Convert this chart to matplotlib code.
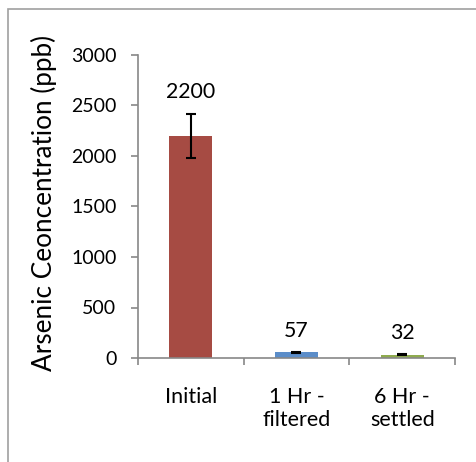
import matplotlib
matplotlib.use("Agg")
import matplotlib.pyplot as plt
from matplotlib.patches import Rectangle

categories = ["Initial", "1 Hr -\nfiltered", "6 Hr -\nsettled"]
values = [2200, 57, 32]
errors = [220, 6, 5]
labels = ["2200", "57", "32"]
colors = ["#A64B43", "#5B8DC9", "#8FAB4E"]
yticks = [0, 500, 1000, 1500, 2000, 2500, 3000]

plt.rcParams['font.family'] = ['Lato', 'DejaVu Sans']

fig = plt.figure(figsize=(4.76, 4.62), dpi=100)
fig.patch.set_facecolor("white")
# outer chart border
fig.add_artist(Rectangle((8/476, -0.1), 1.2, 1 - 9/462 + 0.1, transform=fig.transFigure,
                         fill=False, edgecolor="#A0A0A0", linewidth=1.2))

ax = fig.add_axes([138/476, 1 - 358/462, (455 - 138)/476, (358 - 55)/462])
x = list(range(len(categories)))
ax.bar(x, values, width=0.41, color=colors, zorder=2)
ax.errorbar(x, values, yerr=errors, fmt="none", ecolor="black", elinewidth=1.5,
            capsize=3.5, capthick=1.5, zorder=3)
for xi, v, e, lab in zip(x, values, errors, labels):
    ax.annotate(lab, (xi, v + e), xytext=(0, 8), textcoords="offset points",
                ha="center", va="bottom", fontsize=15.3)

ax.set_xlim(-0.5, 2.5)
ax.set_ylim(0, 3000)
ax.set_yticks(yticks)
ax.set_yticklabels([str(t) for t in yticks], fontsize=14)
ax.set_xticks([-0.5, 0.5, 1.5, 2.5])
ax.set_xticklabels([])
ax.set_xticks(x, minor=True)
ax.set_xticklabels(categories, minor=True, fontsize=15.5, linespacing=1.15)
ax.tick_params(axis="x", which="minor", length=0, pad=21)
ax.tick_params(axis="x", which="major", length=5, width=1.2, color="#888888", direction="out")
ax.tick_params(axis="y", length=5, width=1.2, color="#888888", direction="out", pad=10.5)
for s in ["top", "right"]:
    ax.spines[s].set_visible(False)
for s in ["left", "bottom"]:
    ax.spines[s].set_color("#888888")
    ax.spines[s].set_linewidth(1.2)
ax.set_ylabel("Arsenic Ceoncentration (ppb)", fontsize=18.8)
ax.yaxis.set_label_coords(-0.255, 0.51)

fig.savefig("out.png", dpi=100, facecolor="white")
